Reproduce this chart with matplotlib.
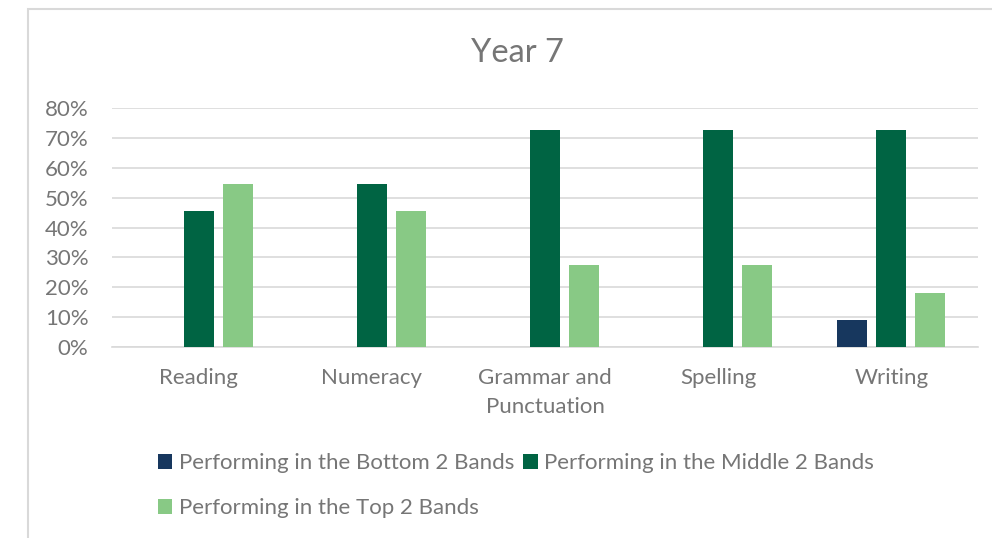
import matplotlib.pyplot as plt
import numpy as np
from matplotlib.patches import Rectangle
from matplotlib.ticker import PercentFormatter

# Year 7 results by domain, share of students in each band group
domains = ["Reading", "Numeracy", "Grammar and\nPunctuation", "Spelling", "Writing"]
bottom_2 = [0.0, 0.0, 0.0, 0.0, 9.1]
middle_2 = [45.5, 54.5, 72.7, 72.7, 72.7]
top_2 = [54.5, 45.5, 27.3, 27.3, 18.2]

series = [
    ("Performing in the Bottom 2 Bands", bottom_2, "#17375e"),
    ("Performing in the Middle 2 Bands", middle_2, "#006443"),
    ("Performing in the Top 2 Bands", top_2, "#88c985"),
]

plt.rcParams["font.family"] = ["Lato", "DejaVu Sans"]
grey = "#767676"
fs = 16

fig = plt.figure(figsize=(9.92, 5.38), dpi=100)
ax = fig.add_axes([112 / 992, 1 - 347 / 538, 866 / 992, 239 / 538])

# outer chart frame
fig.patches.append(Rectangle((28 / 992, -0.1), 1.1, 1 - 9 / 538 + 0.1,
                             transform=fig.transFigure, fill=False,
                             edgecolor="#d9d9d9", linewidth=1.5))

x = np.arange(len(domains))
step = 0.225
width = 0.173
handles = []
for i, (label, vals, color) in enumerate(series):
    h = ax.bar(x + (i - 1) * step, vals, width, color=color, label=label, zorder=3)
    handles.append(h)

ax.set_xlim(-0.5, len(domains) - 0.5)
ax.set_ylim(0, 80)
ax.set_yticks(np.arange(0, 81, 10))
ax.yaxis.set_major_formatter(PercentFormatter(decimals=0))
ax.grid(axis="y", color="#d9d9d9", linewidth=1.2, zorder=0)
for s in ["top", "right", "left"]:
    ax.spines[s].set_visible(False)
ax.spines["bottom"].set_color("#d9d9d9")
ax.spines["bottom"].set_linewidth(1.2)
ax.tick_params(length=0, colors=grey, labelsize=fs)
ax.tick_params(axis="y", pad=17)
ax.tick_params(axis="x", pad=15)
ax.set_xticks(x)
ax.set_xticklabels(domains, linespacing=1.55)

fig.text(517 / 992, 1 - 53 / 538, "Year 7", ha="center", va="center",
         fontsize=23.5, color=grey)

# legend filled row by row: bottom, middle on first row, top below
order = [0, 2, 1]
leg = fig.legend([handles[i] for i in order], [series[i][0] for i in order],
                 ncol=2, loc="upper left", bbox_to_anchor=(158 / 992, 1 - 453 / 538),
                 frameon=False, fontsize=fs, handlelength=0.65, handleheight=0.65,
                 handletextpad=0.3, columnspacing=0.4, labelspacing=1.12,
                 borderaxespad=0, borderpad=0)
for t in leg.get_texts():
    t.set_color(grey)

fig.savefig("out.png", dpi=100, facecolor="white")
